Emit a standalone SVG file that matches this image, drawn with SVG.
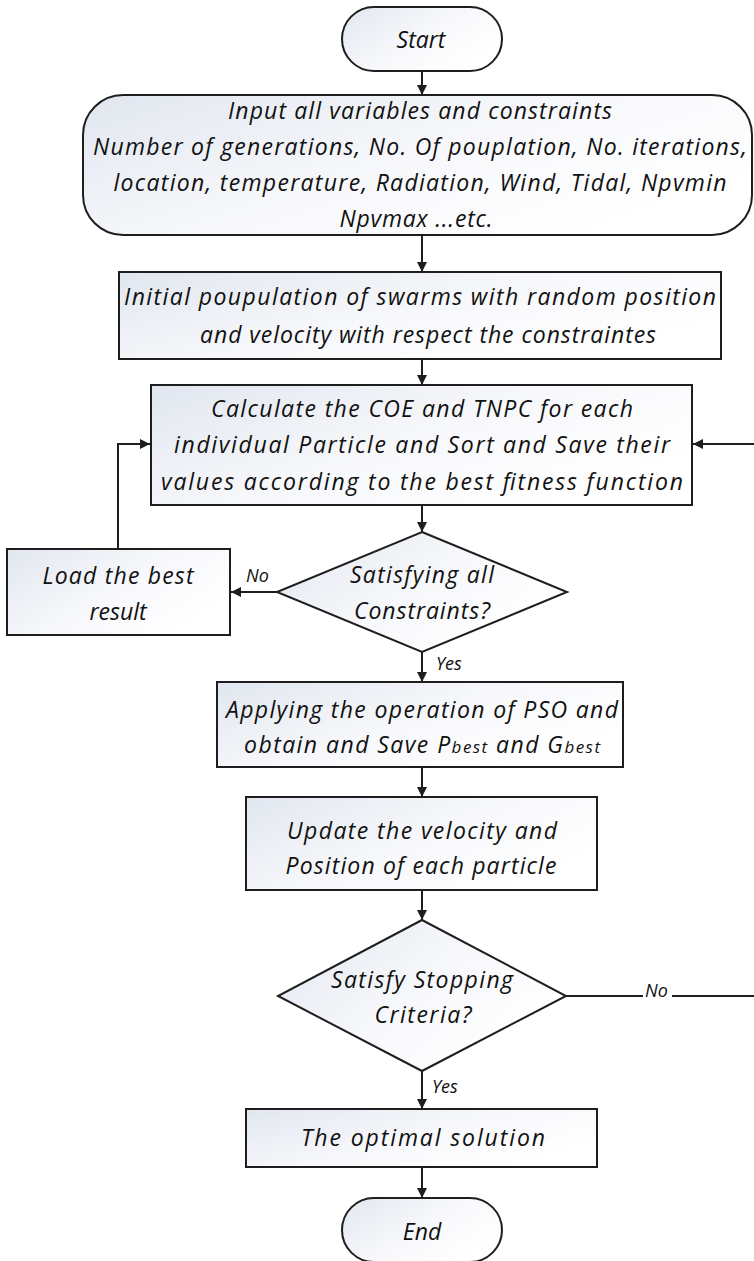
<svg xmlns="http://www.w3.org/2000/svg" width="754" height="1261" viewBox="0 0 754 1261">
  <style>
    .shape { stroke: #1e1e1e; stroke-width: 2; fill: url(#soft); }
    .lbl { font-family: "Open Sans", "Noto Sans", sans-serif; font-style: italic; font-size: 23px; fill: #111; text-anchor: middle; }
    .sm { font-family: "Open Sans", "Noto Sans", sans-serif; font-style: italic; font-size: 18px; fill: #111; }
    .sub { font-size: 17px; }
    .link { fill: none; stroke: #1e1e1e; stroke-width: 2; }
    .arrow { marker-end: url(#head); }
  </style>
  <defs>
    <linearGradient id="soft" x1="0" y1="0" x2="1" y2="0.6">
      <stop offset="0" stop-color="#e1e6ef"/>
      <stop offset="0.55" stop-color="#f7f8fb"/>
      <stop offset="1" stop-color="#ffffff"/>
    </linearGradient>
    <marker id="head" viewBox="0 0 10 10" refX="10" refY="5" markerWidth="11" markerHeight="10" markerUnits="userSpaceOnUse" orient="auto">
      <path d="M0,0 L10,5 L0,10 Z" fill="#1e1e1e"/>
    </marker>
  </defs>

  <rect width="754" height="1261" fill="#ffffff"/>

  <!-- connectors -->
  <g id="connectors">
    <path class="link arrow" d="M422,71 V95"/>
    <path class="link arrow" d="M422,235 V272"/>
    <path class="link arrow" d="M422,359 V385"/>
    <path class="link arrow" d="M422,505 V532"/>
    <path class="link arrow" d="M277,592 H231"/>
    <path class="link arrow" d="M118,549 V444 H150"/>
    <path class="link arrow" d="M422,652 V682"/>
    <path class="link arrow" d="M422,767 V797"/>
    <path class="link arrow" d="M422,890 V920"/>
    <path class="link" d="M566,996 H643"/>
    <path class="link arrow" d="M672,996 H757 V444 H693"/>
    <path class="link arrow" d="M422,1071 V1109"/>
    <path class="link arrow" d="M422,1167 V1198"/>
    <text class="sm" x="246" y="582">No</text>
    <text class="sm" x="436" y="670">Yes</text>
    <text class="sm" x="645" y="997">No</text>
    <text class="sm" x="432" y="1093">Yes</text>
  </g>

  <g id="start">
    <rect class="shape" x="342" y="7" width="160" height="64" rx="32"/>
    <text class="lbl" x="421" y="48">Start</text>
  </g>

  <g id="inputs">
    <rect class="shape" x="83" y="95" width="669" height="140" rx="40"/>
    <text class="lbl" x="420" y="119" textLength="384" lengthAdjust="spacing">Input all variables and constraints</text>
    <text class="lbl" x="420" y="155" textLength="654" lengthAdjust="spacing">Number of generations, No. Of pouplation, No. iterations,</text>
    <text class="lbl" x="420" y="191" textLength="613" lengthAdjust="spacing">location, temperature, Radiation, Wind, Tidal, Npvmin</text>
    <text class="lbl" x="416" y="227" textLength="153" lengthAdjust="spacing">Npvmax ...etc.</text>
  </g>

  <g id="init">
    <rect class="shape" x="119" y="272" width="602" height="87"/>
    <text class="lbl" x="420" y="305" textLength="592" lengthAdjust="spacing">Initial poupulation of swarms with random position</text>
    <text class="lbl" x="428" y="343" textLength="456" lengthAdjust="spacing">and velocity with respect the constraintes</text>
  </g>

  <g id="evaluate">
    <rect class="shape" x="151" y="385" width="541" height="120"/>
    <text class="lbl" x="422" y="417" textLength="422" lengthAdjust="spacing">Calculate the COE and TNPC for each</text>
    <text class="lbl" x="422" y="453" textLength="496" lengthAdjust="spacing">individual Particle and Sort and Save their</text>
    <text class="lbl" x="422" y="490" textLength="522" lengthAdjust="spacing">values according to the best fitness function</text>
  </g>

  <g id="check-constraints">
    <polygon class="shape" points="422,532 567,592 422,652 277,592"/>
    <text class="lbl" x="422" y="583" textLength="144" lengthAdjust="spacing">Satisfying all</text>
    <text class="lbl" x="422" y="619" textLength="136" lengthAdjust="spacing">Constraints?</text>
  </g>

  <g id="load-best">
    <rect class="shape" x="7" y="549" width="223" height="86"/>
    <text class="lbl" x="118" y="584" textLength="151" lengthAdjust="spacing">Load the best</text>
    <text class="lbl" x="118" y="620">result</text>
  </g>

  <g id="pso">
    <rect class="shape" x="217" y="682" width="406" height="85"/>
    <text class="lbl" x="422" y="718" textLength="392" lengthAdjust="spacing">Applying the operation of PSO and</text>
    <text class="lbl" x="422" y="753" textLength="356" lengthAdjust="spacing">obtain and Save P<tspan class="sub">best</tspan> and G<tspan class="sub">best</tspan></text>
  </g>

  <g id="update">
    <rect class="shape" x="246" y="797" width="351" height="93"/>
    <text class="lbl" x="422" y="839" textLength="270" lengthAdjust="spacing">Update the velocity and</text>
    <text class="lbl" x="421" y="874" textLength="271" lengthAdjust="spacing">Position of each particle</text>
  </g>

  <g id="check-stop">
    <polygon class="shape" points="422,920 566,996 422,1071 278,996"/>
    <text class="lbl" x="422" y="988" textLength="182" lengthAdjust="spacing">Satisfy Stopping</text>
    <text class="lbl" x="423" y="1023" textLength="97" lengthAdjust="spacing">Criteria?</text>
  </g>

  <g id="optimal">
    <rect class="shape" x="246" y="1109" width="351" height="58"/>
    <text class="lbl" x="423" y="1146" textLength="244" lengthAdjust="spacing">The optimal solution</text>
  </g>

  <g id="end">
    <rect class="shape" x="342" y="1198" width="160" height="64" rx="32"/>
    <text class="lbl" x="422" y="1240">End</text>
  </g>
</svg>
